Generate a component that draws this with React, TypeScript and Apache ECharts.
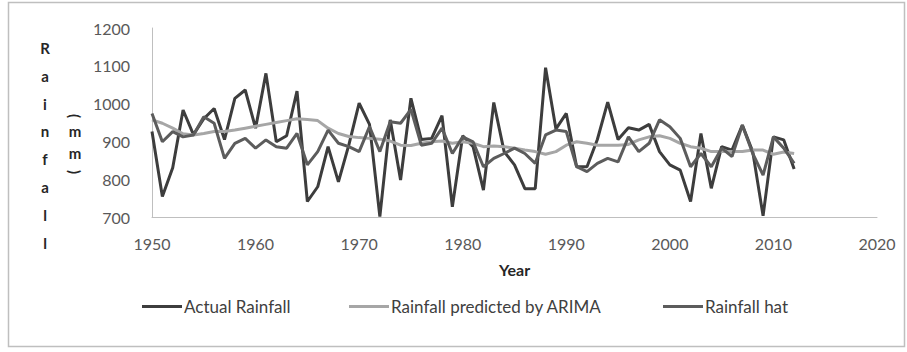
import React, { useEffect, useRef } from "react";
import * as echarts from "echarts";

const years = [
  1950, 1951, 1952, 1953, 1954, 1955, 1956, 1957, 1958, 1959,
  1960, 1961, 1962, 1963, 1964, 1965, 1966, 1967, 1968, 1969,
  1970, 1971, 1972, 1973, 1974, 1975, 1976, 1977, 1978, 1979,
  1980, 1981, 1982, 1983, 1984, 1985, 1986, 1987, 1988, 1989,
  1990, 1991, 1992, 1993, 1994, 1995, 1996, 1997, 1998, 1999,
  2000, 2001, 2002, 2003, 2004, 2005, 2006, 2007, 2008, 2009,
  2010, 2011, 2012,
];

const actualRainfall = [
  926, 754, 830, 983, 918, 960, 987, 905, 1014, 1036,
  935, 1080, 899, 915, 1033, 741, 780, 886, 793, 890,
  1001, 945, 701, 957, 798, 1014, 905, 908, 968, 727,
  915, 886, 771, 1003, 873, 838, 775, 775, 1095, 933,
  974, 833, 833, 905, 1004, 905, 936, 930, 945, 873,
  838, 824, 741, 921, 776, 886, 877, 943, 873, 703,
  912, 904, 827,
];

const arimaPredicted = [
  957, 948, 935, 920, 917, 921, 926, 926, 930, 935,
  940, 945, 950, 955, 960, 958, 955, 935, 921, 913,
  910, 908, 906, 901, 890, 889, 895, 899, 901, 895,
  899, 895, 886, 888, 886, 882, 877, 873, 866, 873,
  890, 899, 895, 890, 890, 890, 892, 904, 912, 915,
  908, 895, 886, 882, 873, 873, 873, 873, 877, 877,
  866, 872, 868,
];

const rainfallHat = [
  974, 899, 926, 912, 917, 965, 948, 855, 895, 908,
  882, 904, 886, 882, 921, 838, 873, 930, 895, 886,
  873, 939, 873, 952, 948, 985, 890, 895, 935, 868,
  912, 899, 833, 855, 868, 882, 868, 842, 917, 930,
  926, 833, 820, 842, 855, 846, 912, 873, 895, 957,
  939, 908, 833, 868, 833, 882, 860, 943, 868, 811,
  912, 882, 842,
];

const seriesNames = ["Actual Rainfall", "Rainfall predicted by ARIMA", "Rainfall hat"];
const yTitleLetters = ["R", "a", "i", "n", "f", "a", "l", "l"];

const FONT = "Lato, 'Open Sans', sans-serif";

export default function App() {
  const ref = useRef<HTMLDivElement>(null);

  useEffect(() => {
    if (!ref.current) return;
    const chart = echarts.init(ref.current, null, { renderer: "svg" });

    const pair = (vals: number[]) => years.map((y, i) => [y, vals[i]]);

    const letterEls: any[] = yTitleLetters.map((ch, i) => ({
      type: "text",
      x: 45,
      y: 48 + i * 27.8,
      style: {
        text: ch,
        font: `bold 15px ${FONT}`,
        fill: "#262626",
        align: "center",
        verticalAlign: "middle",
      },
    }));

    const mmEls: any[] = [
      { ch: "(", y: 116, rot: -Math.PI / 2 },
      { ch: "m", y: 131, rot: 0 },
      { ch: "m", y: 153, rot: 0 },
      { ch: ")", y: 172, rot: -Math.PI / 2 },
    ].map((d) => ({
      type: "text",
      x: 75,
      y: d.y,
      rotation: d.rot,
      style: {
        text: d.ch,
        font: `bold 15px ${FONT}`,
        fill: "#262626",
        align: "center",
        verticalAlign: "middle",
      },
    }));

    const colors = ["#3d3d3d", "#a6a6a6", "#5c5c5c"];

    chart.setOption({
      animation: false,
      backgroundColor: "#ffffff",
      textStyle: { fontFamily: FONT },
      grid: { left: 152, right: 30, top: 28, bottom: 135, containLabel: false },
      xAxis: {
        type: "value",
        min: 1950,
        max: 2020,
        interval: 10,
        name: "Year",
        nameLocation: "middle",
        nameGap: 44,
        nameTextStyle: { fontFamily: FONT, fontSize: 16, fontWeight: "bold", color: "#262626" },
        axisLine: { show: true, lineStyle: { color: "#bfbfbf", width: 1 } },
        axisTick: { show: false },
        splitLine: { show: false },
        axisLabel: {
          margin: 18,
          fontFamily: FONT,
          fontSize: 16,
          color: "#595959",
          formatter: (v: number) => String(v),
        },
      },
      yAxis: {
        type: "value",
        min: 700,
        max: 1200,
        interval: 100,
        axisLine: { show: true, lineStyle: { color: "#bfbfbf", width: 1 } },
        axisTick: { show: false },
        splitLine: { show: false },
        axisLabel: {
          margin: 22,
          fontFamily: FONT,
          fontSize: 16,
          color: "#595959",
          formatter: (v: number) => String(v),
        },
      },
      legend: [0, 1, 2].map((i) => ({
        data: [seriesNames[i]],
        left: [142, 349, 663][i],
        top: 298,
        itemWidth: 40,
        itemHeight: 16,
        itemGap: 0,
        padding: 0,
        textStyle: { fontFamily: FONT, fontSize: 17, color: "#404040", padding: [0, 0, 0, -3] },
        icon: "path://M0,6.5 L40,6.5 L40,9.5 L0,9.5 Z",
        itemStyle: { color: colors[i] },
      })),
      series: [
        {
          name: seriesNames[0],
          type: "line",
          data: pair(actualRainfall),
          showSymbol: false,
          symbol: "none",
          lineStyle: { color: colors[0], width: 3 },
          itemStyle: { color: colors[0] },
        },
        {
          name: seriesNames[1],
          type: "line",
          data: pair(arimaPredicted),
          showSymbol: false,
          symbol: "none",
          lineStyle: { color: colors[1], width: 3 },
          itemStyle: { color: colors[1] },
        },
        {
          name: seriesNames[2],
          type: "line",
          data: pair(rainfallHat),
          showSymbol: false,
          symbol: "none",
          lineStyle: { color: colors[2], width: 3 },
          itemStyle: { color: colors[2] },
        },
      ],
      graphic: [
        {
          type: "rect",
          shape: { x: 8.5, y: 2.5, width: 896, height: 344 },
          style: { fill: "none", stroke: "#bfbfbf", lineWidth: 1.5 },
          silent: true,
        },
        ...letterEls,
        ...mmEls,
      ],
    });

    return () => chart.dispose();
  }, []);

  return (
    <div
      ref={ref}
      style={{ position: "fixed", left: 0, top: 0, width: 907, height: 352, background: "#fff" }}
    />
  );
}
